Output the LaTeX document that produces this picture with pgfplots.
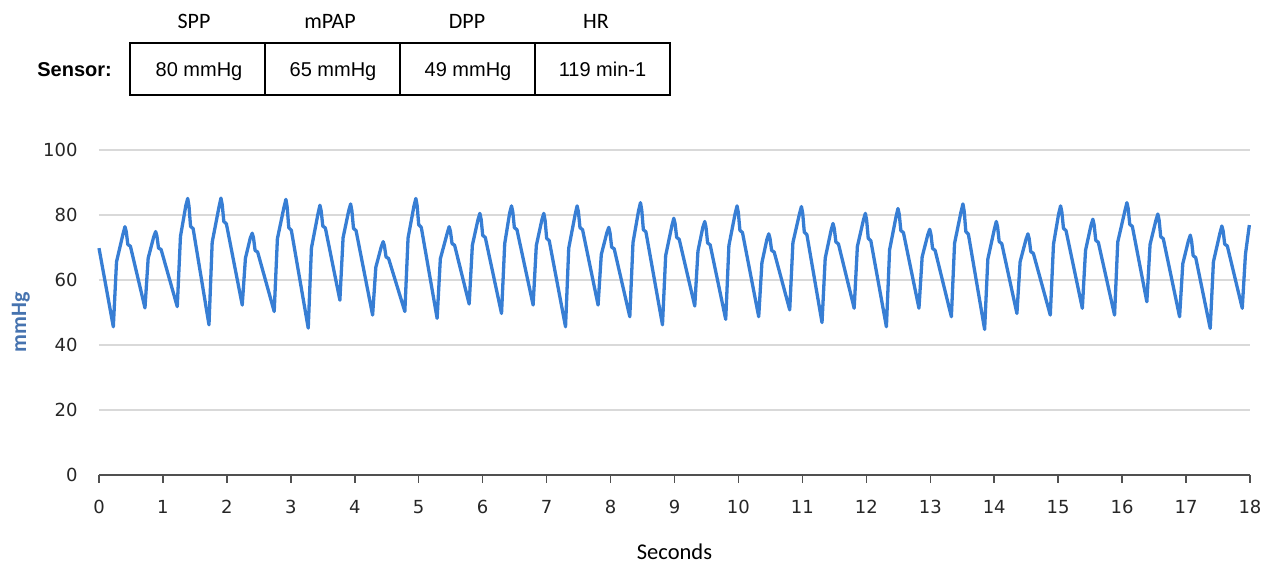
\documentclass[border=0pt]{standalone}
\usepackage{pgfplots}
\pgfplotsset{compat=1.18}
\usepackage{fontspec}
\setmainfont{Carlito}
\newfontfamily\dejavu{DejaVu Sans}
\newfontfamily\arial{Liberation Sans}
\definecolor{wave}{RGB}{55,126,212}
\definecolor{ylab}{RGB}{70,115,175}
\definecolor{gridc}{RGB}{217,217,217}
\definecolor{axc}{RGB}{80,80,80}
\pgfplotstableread{
t v
0.000 69.8
0.224 45.6
0.274 65.6
0.376 74.2
0.406 76.4
0.426 74.9
0.451 70.9
0.491 70.4
0.719 51.4
0.769 66.7
0.856 73.3
0.886 74.9
0.906 73.5
0.931 69.8
0.971 69.4
1.224 51.8
1.274 73.4
1.357 82.8
1.387 85.1
1.407 82.8
1.432 76.5
1.472 75.8
1.720 46.2
1.770 71.6
1.877 82.5
1.907 85.2
1.927 83.2
1.952 78.0
1.992 77.3
2.240 52.3
2.290 66.7
2.366 72.9
2.396 74.4
2.416 73.0
2.441 69.1
2.481 68.6
2.740 50.3
2.790 72.7
2.893 82.4
2.923 84.8
2.943 82.4
2.968 76.1
3.008 75.3
3.272 45.2
3.322 69.8
3.425 80.4
3.455 83.0
3.475 81.2
3.500 76.6
3.540 76.0
3.767 53.8
3.817 73.0
3.905 81.3
3.935 83.4
3.955 81.3
3.980 75.9
4.020 75.2
4.279 49.2
4.329 63.9
4.414 70.2
4.444 71.8
4.464 70.5
4.489 67.1
4.529 66.6
4.783 50.3
4.833 72.9
4.925 82.7
4.955 85.1
4.975 82.9
5.000 77.0
5.040 76.2
5.288 48.2
5.338 66.5
5.446 74.4
5.476 76.4
5.496 75.0
5.521 71.2
5.561 70.7
5.789 52.6
5.839 70.7
5.926 78.5
5.956 80.5
5.976 78.7
6.001 73.7
6.041 73.1
6.295 49.7
6.345 71.2
6.421 80.5
6.451 82.8
6.471 81.0
6.496 76.1
6.536 75.5
6.789 52.3
6.839 70.6
6.926 78.5
6.956 80.5
6.976 78.4
7.001 72.8
7.041 72.1
7.296 45.6
7.346 69.8
7.447 80.2
7.477 82.8
7.497 81.0
7.522 76.1
7.562 75.5
7.805 52.3
7.855 67.8
7.942 74.5
7.972 76.2
7.992 74.5
8.017 70.1
8.057 69.6
8.301 48.7
8.351 71.5
8.438 81.3
8.468 83.8
8.488 81.5
8.513 75.5
8.553 74.8
8.812 46.2
8.862 67.5
8.959 76.7
8.989 79.0
9.009 77.4
9.034 73.1
9.074 72.5
9.317 52.0
9.367 68.9
9.443 76.2
9.473 78.0
9.493 76.2
9.518 71.4
9.558 70.8
9.801 47.9
9.851 70.6
9.948 80.4
9.978 82.8
9.998 80.8
10.023 75.3
10.063 74.6
10.317 48.7
10.367 65.3
10.444 72.4
10.474 74.2
10.494 72.8
10.519 69.1
10.559 68.6
10.802 50.8
10.852 71.5
10.955 80.4
10.985 82.6
11.005 80.5
11.030 74.7
11.070 74.0
11.307 46.9
11.357 66.7
11.449 75.3
11.479 77.4
11.499 75.8
11.524 71.7
11.564 71.1
11.810 51.3
11.860 70.3
11.955 78.5
11.985 80.5
12.005 78.4
12.030 72.8
12.070 72.1
12.314 45.6
12.364 69.3
12.465 79.5
12.495 82.0
12.515 80.2
12.540 75.2
12.580 74.6
12.823 51.3
12.873 67.1
12.961 73.9
12.991 75.6
13.011 74.0
13.036 69.7
13.076 69.1
13.330 48.7
13.380 71.3
13.481 81.0
13.511 83.4
13.531 81.1
13.556 74.9
13.596 74.1
13.850 44.8
13.900 66.4
14.003 75.7
14.033 78.0
14.053 76.3
14.078 71.8
14.118 71.2
14.355 49.7
14.405 65.6
14.497 72.5
14.527 74.2
14.547 72.7
14.572 68.7
14.612 68.2
14.877 49.2
14.927 71.0
15.008 80.4
15.038 82.8
15.058 80.9
15.083 75.9
15.123 75.2
15.378 51.3
15.428 69.1
15.513 76.8
15.543 78.7
15.563 76.9
15.588 72.2
15.628 71.6
15.882 49.2
15.932 71.7
16.045 81.4
16.075 83.8
16.095 82.0
16.120 77.1
16.160 76.5
16.387 53.3
16.437 70.9
16.529 78.4
16.559 80.3
16.579 78.4
16.604 73.3
16.644 72.7
16.899 48.7
16.949 65.0
17.036 72.0
17.066 73.8
17.086 72.1
17.111 67.5
17.151 66.9
17.378 45.1
17.428 65.6
17.530 74.4
17.560 76.6
17.580 75.1
17.605 71.0
17.645 70.5
17.879 51.3
17.929 67.9
17.990 76.9
}\wavedata
\begin{document}
\begin{tikzpicture}
\path[use as bounding box] (0pt,0pt) rectangle (1271pt,564pt);
% header row
\node[font=\fontsize{22}{26}\selectfont, anchor=base] at (194pt,535.7pt) {SPP};
\node[font=\fontsize{22}{26}\selectfont, anchor=base] at (330pt,535.7pt) {mPAP};
\node[font=\fontsize{22}{26}\selectfont, anchor=base] at (467pt,535.7pt) {DPP};
\node[font=\fontsize{22}{26}\selectfont, anchor=base] at (596pt,535.7pt) {HR};
% table
\draw[line width=1.5pt] (130pt,469pt) rectangle (670pt,521pt);
\draw[line width=1.5pt] (265pt,469pt)--(265pt,521pt) (400pt,469pt)--(400pt,521pt) (535pt,469pt)--(535pt,521pt);
\node[font=\arial\bfseries\fontsize{20}{24}\selectfont, anchor=base east, inner sep=0pt] at (112pt,487.5pt) {Sensor:};
\node[font=\arial\fontsize{20}{24}\selectfont, anchor=base, inner sep=0pt] at (199pt,487.5pt) {80 mmHg};
\node[font=\arial\fontsize{20}{24}\selectfont, anchor=base, inner sep=0pt] at (333pt,487.5pt) {65 mmHg};
\node[font=\arial\fontsize{20}{24}\selectfont, anchor=base, inner sep=0pt] at (468pt,487.5pt) {49 mmHg};
\node[font=\arial\fontsize{20}{24}\selectfont, anchor=base, inner sep=0pt] at (602.5pt,487.5pt) {119 min-1};
\begin{axis}[
  at={(99pt,89pt)}, anchor=south west,
  width=1151pt, height=325pt, scale only axis,
  xmin=0, xmax=18, ymin=0, ymax=100,
  xtick={0,1,...,18}, ytick={0,20,...,100},
  axis x line=bottom, axis y line=left,
  x axis line style={-, draw=axc, line width=1.5pt},
  y axis line style={draw=none},
  xtick align=outside, major tick length=8pt,
  xtick style={draw=axc, line width=1.5pt},
  ytick style={draw=none},
  ymajorgrids, grid style={draw=gridc, line width=1.2pt},
  tick label style={font=\dejavu\fontsize{18}{22}\selectfont, color=black!85},
  xticklabel style={yshift=-14pt},
  yticklabel style={xshift=-14pt},
  /pgf/number format/assume math mode=true,
  xlabel={Seconds}, ylabel={mmHg},
  every axis x label/.style={at={(axis description cs:0.5,-0.237)}, anchor=center, font=\fontsize{22.5}{26}\selectfont},
  every axis y label/.style={at={(axis description cs:-0.068,0.47)}, anchor=center, rotate=90, font=\bfseries\fontsize{22}{26}\selectfont, color=ylab},
  clip=false,
]
\addplot[wave, line width=3.3pt, line join=round, mark=none] table[x=t,y=v] {\wavedata};
\end{axis}
\end{tikzpicture}
\end{document}
